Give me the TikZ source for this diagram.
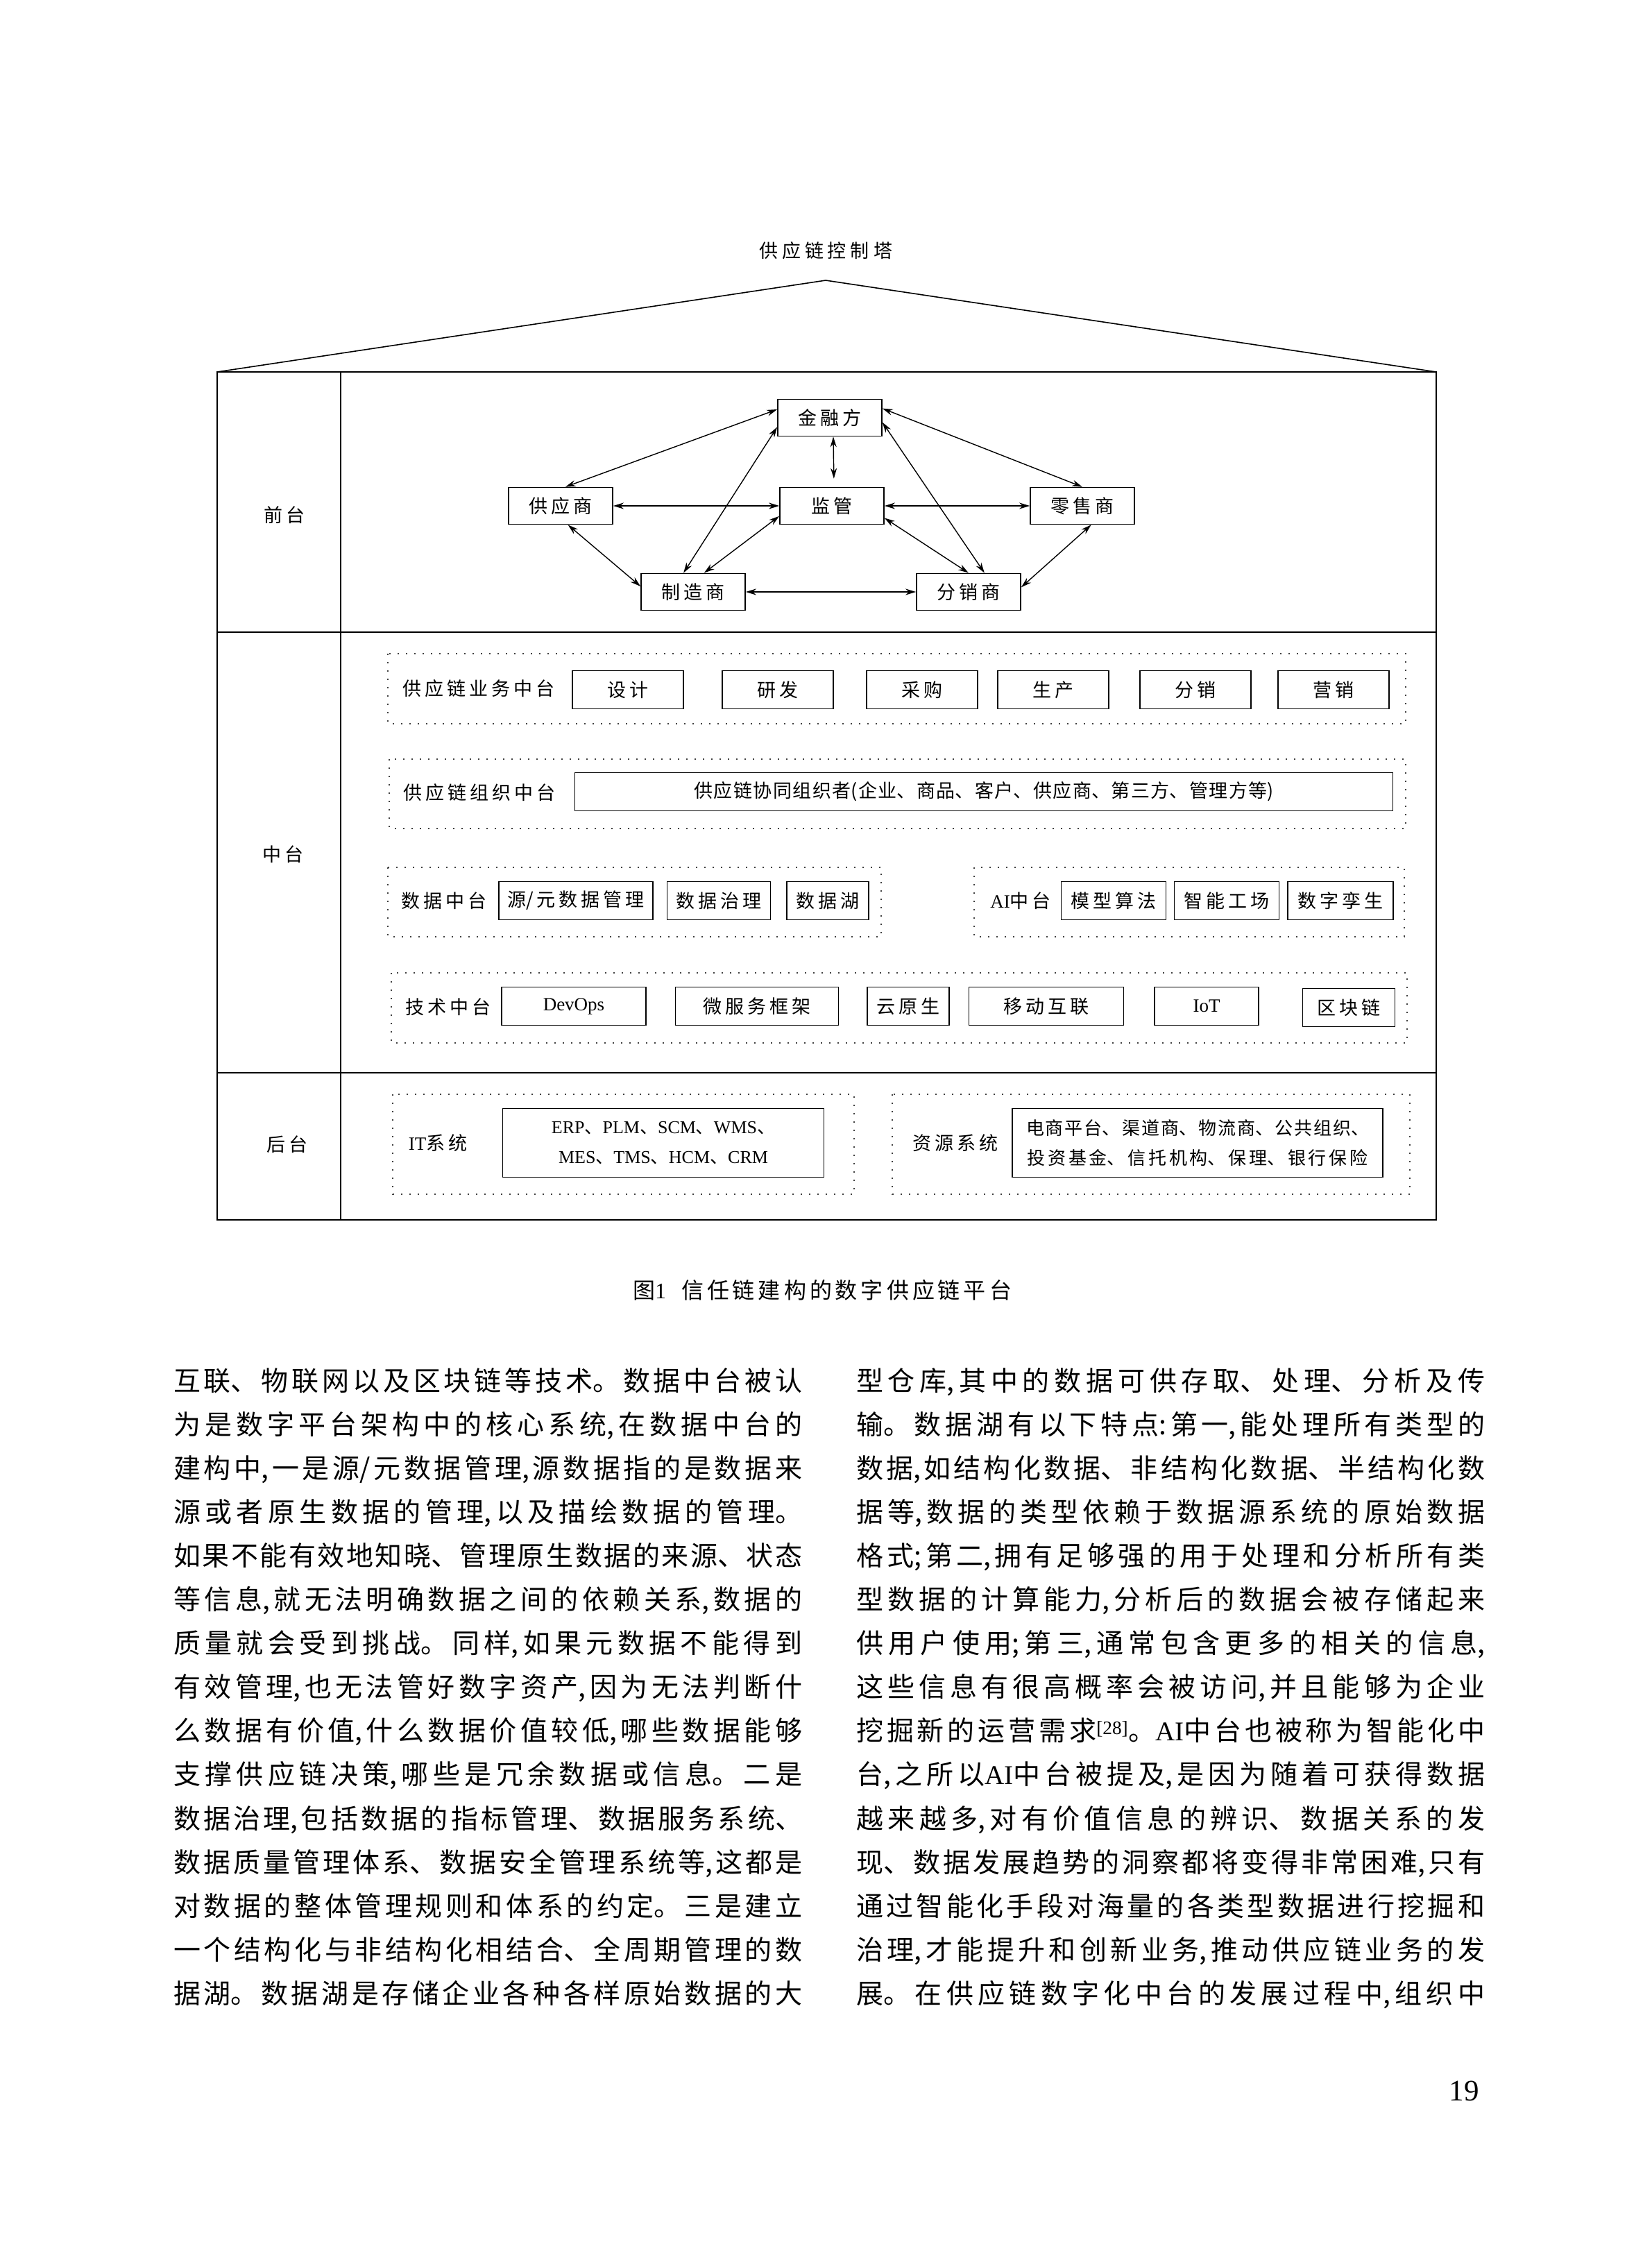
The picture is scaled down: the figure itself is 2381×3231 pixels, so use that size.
\documentclass[tikz,border=0pt]{standalone}
\usepackage{fontspec}
\setmainfont{Noto Sans CJK SC}
\newfontfamily\en{Liberation Serif}
\usetikzlibrary{arrows.meta, positioning}

% glue between Chinese characters (letter spacing and justification)
\newdimen\hangap
\newcount\hancode
\newXeTeXintercharclass\hanclass
\newXeTeXintercharclass\punclass
\hancode="4E00
\loop\ifnum\hancode<"A000 \XeTeXcharclass\hancode=\hanclass \advance\hancode 1 \repeat
\hancode="3000
\loop\ifnum\hancode<"3040 \XeTeXcharclass\hancode=\punclass \advance\hancode 1 \repeat
\hancode="FF00
\loop\ifnum\hancode<"FFF0 \XeTeXcharclass\hancode=\punclass \advance\hancode 1 \repeat
\XeTeXinterchartoks\hanclass\hanclass={\hskip\hangap plus 1fil\relax}
\XeTeXinterchartoks\punclass\hanclass={\hskip\hangap plus 1fil\relax}
\XeTeXinterchartoks 0 \hanclass={\hskip\hangap plus 1fil\relax}

\newcommand\diagfont{\fontsize{27}{32}\selectfont\hangap=5pt\relax}
\newcommand\titlefont{\fontsize{27}{32}\selectfont\hangap=6pt\relax}
\newcommand\orgfont{\fontsize{27}{32}\selectfont\hangap=1.5pt\relax}
\newcommand\wordfont{\fontsize{26}{43}\selectfont\hangap=2pt\relax}
\newcommand\capfont{\fontsize{32}{36}\selectfont\hangap=5pt\relax}
\newcommand\bodyfont{\fontsize{39}{63}\selectfont\hangap=0pt\relax}

\begin{document}
\XeTeXinterchartokenstate=1
\begin{tikzpicture}[x=1pt, y=-1pt,
  party/.style={draw, line width=1.6pt, minimum width=150pt, minimum height=53pt, inner sep=0pt, font=\diagfont},
  unit/.style={draw, line width=1.6pt, minimum height=55pt, inner sep=0pt, font=\diagfont},
  grp/.style={draw=black!75, line width=2pt, dash pattern=on 2pt off 10pt},
  lbl/.style={inner sep=0pt, font=\diagfont},
  link/.style={{Stealth[length=15pt,width=9pt]}-{Stealth[length=15pt,width=9pt]}, line width=1.4pt},
  bodyline/.style={anchor=base west, inner sep=0pt, font=\bodyfont}
]
\useasboundingbox (0,0) rectangle (2381,3231);

% roof and frame
\node[lbl, font=\titlefont] (title) at (1190,361) {供应链控制塔};
\coordinate (apex) at (1190,404);
\coordinate (eaveL) at (313,536);
\coordinate (eaveR) at (2070,536);
\draw[line width=1.6pt] (eaveL) -- (apex) -- (eaveR);
\draw[line width=2pt] (313,536) rectangle (2070,1758);
\draw[line width=2.5pt] (313,911) -- (2070,911);
\draw[line width=2.5pt] (313,1546) -- (2070,1546);
\draw[line width=1.2pt] (491,536) -- (491,1758);

\node[lbl] (front) at (410,742) {前台};
\node[lbl] (middle) at (408,1231) {中台};
\node[lbl] (back) at (414,1649) {后台};

% front: parties
\node[party] (jr) at (1196,602) {金融方};
\node[party] (gy) at (808,729) {供应商};
\node[party] (jg) at (1199,729) {监管};
\node[party] (ls) at (1560,729) {零售商};
\node[party] (zz) at (999,853) {制造商};
\node[party] (fx) at (1396,853) {分销商};

\draw[link] (jr.171) -- (gy.76);
\draw[link] (jr.10) -- (ls.north);
\draw[link, shorten >=12pt] ([xshift=5pt]jr.south) -- ([xshift=3pt]jg.north);
\draw[link] (jr.190) -- (zz.117);
\draw[link] (jr.355) -- (fx.50);
\draw[link, line width=2pt] (gy.east) -- (jg.west);
\draw[link, line width=2pt] (jg.east) -- (ls.west);
\draw[link] (gy.291) -- (zz.174);
\draw[link] (jg.191) -- (zz.60);
\draw[link] (jg.347) -- (fx.north);
\draw[link] (ls.295) -- (fx.5);
\draw[link, line width=2pt] (zz.east) -- (fx.west);

% middle: business
\draw[grp] (559,942) rectangle (2026,1043);
\node[lbl] (bizlbl) at (690,992) {供应链业务中台};
\node[unit, minimum width=160pt] (design) at (905,994) {设计};
\node[unit, minimum width=160pt] (rnd) at (1121,994) {研发};
\node[unit, minimum width=160pt] (buy) at (1329,994) {采购};
\node[unit, minimum width=160pt] (make) at (1518,994) {生产};
\node[unit, minimum width=160pt] (dist) at (1723,994) {分销};
\node[unit, minimum width=160pt] (sell) at (1922,994) {营销};

% middle: organisation
\draw[grp] (561,1094) rectangle (2026,1194);
\node[lbl] (orglbl) at (691,1142) {供应链组织中台};
\node[unit, minimum width=1179pt, font=\orgfont] (org) at (1418,1141) {供应链协同组织者(企业、商品、客户、供应商、第三方、管理方等)};

% middle: data and AI
\draw[grp] (559,1250) rectangle (1270,1350);
\node[lbl] (datalbl) at (640,1298) {数据中台};
\node[unit, minimum width=222pt] (meta) at (830,1298) {源/元数据管理};
\node[unit, minimum width=149pt] (gov) at (1036,1298) {数据治理};
\node[unit, minimum width=118pt] (lake) at (1193,1298) {数据湖};

\draw[grp] (1404,1250) rectangle (2024,1350);
\node[lbl] (ailbl) at (1471,1298) {{\en AI}中台};
\node[unit, minimum width=151pt] (algo) at (1605,1298) {模型算法};
\node[unit, minimum width=151pt] (works) at (1768,1298) {智能工场};
\node[unit, minimum width=152pt] (twin) at (1932,1298) {数字孪生};

% middle: technology
\draw[grp] (564,1402) rectangle (2028,1503);
\node[lbl] (techlbl) at (646,1451) {技术中台};
\node[unit, minimum width=208pt] (devops) at (827,1450) {\en DevOps};
\node[unit, minimum width=235pt] (micro) at (1091,1450) {微服务框架};
\node[unit, minimum width=118pt] (cloud) at (1309,1450) {云原生};
\node[unit, minimum width=223pt] (mobile) at (1508,1450) {移动互联};
\node[unit, minimum width=150pt] (iot) at (1739,1450) {\en IoT};
\node[unit, minimum width=133pt] (chain) at (1944,1452) {区块链};

% back
\draw[grp] (566,1577) rectangle (1231,1721);
\node[lbl] (itlbl) at (631,1647) {{\en IT}系统};
\node[unit, minimum width=463pt, minimum height=99pt, align=center, font=\wordfont] (itsys) at (956,1647)
  {{\en ERP}、{\en PLM}、{\en SCM}、{\en WMS}、\\{\en MES}、{\en TMS}、{\en HCM}、{\en CRM}};

\draw[grp] (1286,1577) rectangle (2032,1721);
\node[lbl] (reslbl) at (1377,1647) {资源系统};
\node[unit, minimum width=534pt, minimum height=99pt, align=center, font=\wordfont] (res) at (1726,1647)
  {电商平台、渠道商、物流商、公共组织、\\投资基金、信托机构、保理、银行保险};

% caption
\node[inner sep=0pt, anchor=base, font=\capfont] (caption) at (1185,1871) {图{\en 1}\hspace{22pt}信任链建构的数字供应链平台};

% body text, left column
\foreach \txt [count=\i from 0] in {
  {互联、物联网以及区块链等技术。数据中台被认},
  {为是数字平台架构中的核心系统,在数据中台的},
  {建构中,一是源/元数据管理,源数据指的是数据来},
  {源或者原生数据的管理,以及描绘数据的管理。},
  {如果不能有效地知晓、管理原生数据的来源、状态},
  {等信息,就无法明确数据之间的依赖关系,数据的},
  {质量就会受到挑战。同样,如果元数据不能得到},
  {有效管理,也无法管好数字资产,因为无法判断什},
  {么数据有价值,什么数据价值较低,哪些数据能够},
  {支撑供应链决策,哪些是冗余数据或信息。二是},
  {数据治理,包括数据的指标管理、数据服务系统、},
  {数据质量管理体系、数据安全管理系统等,这都是},
  {对数据的整体管理规则和体系的约定。三是建立},
  {一个结构化与非结构化相结合、全周期管理的数},
  {据湖。数据湖是存储企业各种各样原始数据的大}}
  \node[bodyline] (left\i) at (250,2004+63.1*\i) {\makebox[906pt][s]{\txt}};

% body text, right column
\foreach \txt [count=\i from 0] in {
  {型仓库,其中的数据可供存取、处理、分析及传},
  {输。数据湖有以下特点:第一,能处理所有类型的},
  {数据,如结构化数据、非结构化数据、半结构化数},
  {据等,数据的类型依赖于数据源系统的原始数据},
  {格式;第二,拥有足够强的用于处理和分析所有类},
  {型数据的计算能力,分析后的数据会被存储起来},
  {供用户使用;第三,通常包含更多的相关的信息,},
  {这些信息有很高概率会被访问,并且能够为企业},
  {挖掘新的运营需求\textsuperscript{\en[28]}。{\en AI}中台也被称为智能化中},
  {台,之所以{\en AI}中台被提及,是因为随着可获得数据},
  {越来越多,对有价值信息的辨识、数据关系的发},
  {现、数据发展趋势的洞察都将变得非常困难,只有},
  {通过智能化手段对海量的各类型数据进行挖掘和},
  {治理,才能提升和创新业务,推动供应链业务的发},
  {展。在供应链数字化中台的发展过程中,组织中}}
  \node[bodyline] (right\i) at (1234,2004+63.1*\i) {\makebox[906pt][s]{\txt}};

\node[anchor=base east, inner sep=0pt, font=\en\fontsize{43}{48}\selectfont] (pageno) at (2132,3027) {19};
\end{tikzpicture}
\end{document}
